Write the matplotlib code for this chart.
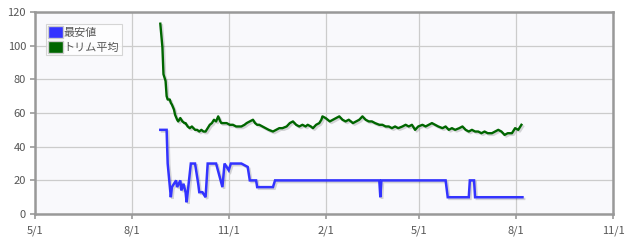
import pandas as pd
import matplotlib
matplotlib.use("Agg")
import matplotlib.pyplot as plt
import matplotlib.dates as mdates
import matplotlib.patheffects as pe
from matplotlib.patches import Patch

plt.rcParams["font.family"] = ["Noto Sans CJK JP", "DejaVu Sans"]

# =========================
# DATA
# =========================

min_dates = [
    "2013-08-28", "2013-09-03", "2013-09-04", "2013-09-07", "2013-09-08",
    "2013-09-12", "2013-09-13", "2013-09-16", "2013-09-17", "2013-09-19",
    "2013-09-21", "2013-09-22", "2013-09-26", "2013-09-30", "2013-10-03",
    "2013-10-04", "2013-10-07", "2013-10-10", "2013-10-12", "2013-10-20",
    "2013-10-23", "2013-10-26", "2013-10-28", "2013-11-01", "2013-11-03",
    "2013-11-13", "2013-11-19", "2013-11-21", "2013-11-27", "2013-11-28",
    "2013-12-13", "2013-12-15", "2014-03-24", "2014-03-25", "2014-03-26",
    "2014-05-26", "2014-05-28", "2014-06-17", "2014-06-18", "2014-06-22",
    "2014-06-23", "2014-08-07",
]
min_values = [
    50, 50, 30, 10, 16,
    20, 16, 20, 14, 18,
    13, 7, 30, 30, 18,
    13, 13, 10, 30, 30,
    23, 16, 30, 26, 30,
    30, 28, 20, 20, 16,
    16, 20, 20, 10, 20,
    20, 10, 10, 20, 20,
    10, 10,
]

trim_dates = [
    "2013-08-28", "2013-08-30", "2013-08-31", "2013-09-02", "2013-09-03",
    "2013-09-04", "2013-09-06", "2013-09-07", "2013-09-08", "2013-09-10",
    "2013-09-11", "2013-09-13", "2013-09-14", "2013-09-16", "2013-09-18",
    "2013-09-20", "2013-09-21", "2013-09-23", "2013-09-25", "2013-09-27",
    "2013-09-30", "2013-10-02", "2013-10-04", "2013-10-06", "2013-10-08",
    "2013-10-10", "2013-10-12", "2013-10-14", "2013-10-16", "2013-10-18",
    "2013-10-20", "2013-10-22", "2013-10-24", "2013-10-25", "2013-10-28",
    "2013-10-30", "2013-11-02", "2013-11-05", "2013-11-08", "2013-11-11",
    "2013-11-13", "2013-11-16", "2013-11-18", "2013-11-21", "2013-11-24",
    "2013-11-26", "2013-11-28", "2013-11-30", "2013-12-03", "2013-12-06",
    "2013-12-09", "2013-12-13", "2013-12-16", "2013-12-19", "2013-12-22",
    "2013-12-26", "2013-12-29", "2014-01-01", "2014-01-04", "2014-01-07",
    "2014-01-10", "2014-01-13", "2014-01-15", "2014-01-18", "2014-01-20",
    "2014-01-23", "2014-01-26", "2014-01-28", "2014-01-29", "2014-02-01",
    "2014-02-03", "2014-02-05", "2014-02-08", "2014-02-11", "2014-02-14",
    "2014-02-17", "2014-02-20", "2014-02-23", "2014-02-25", "2014-02-27",
    "2014-03-02", "2014-03-05", "2014-03-08", "2014-03-11", "2014-03-14",
    "2014-03-17", "2014-03-20", "2014-03-24", "2014-03-27", "2014-03-30",
    "2014-04-02", "2014-04-05", "2014-04-08", "2014-04-11", "2014-04-15",
    "2014-04-18", "2014-04-21", "2014-04-24", "2014-04-27", "2014-04-30",
    "2014-05-04", "2014-05-07", "2014-05-10", "2014-05-13", "2014-05-16",
    "2014-05-19", "2014-05-23", "2014-05-26", "2014-05-29", "2014-06-01",
    "2014-06-04", "2014-06-08", "2014-06-11", "2014-06-14", "2014-06-17",
    "2014-06-20", "2014-06-23", "2014-06-26", "2014-06-29", "2014-07-02",
    "2014-07-05", "2014-07-09", "2014-07-12", "2014-07-15", "2014-07-18",
    "2014-07-21", "2014-07-24", "2014-07-28", "2014-07-31", "2014-08-03",
    "2014-08-06",
]
trim_values = [
    113, 99, 83, 79, 70,
    68, 68, 66, 65, 62,
    59, 56, 55, 57, 55,
    54, 54, 52, 51, 52,
    50, 50, 49, 50, 49,
    49, 51, 53, 54, 56,
    55, 58, 55, 54, 54,
    54, 53, 53, 52, 52,
    52, 53, 54, 55, 56,
    54, 53, 53, 52, 51,
    50, 49, 50, 51, 51,
    52, 54, 55, 53, 52,
    53, 52, 53, 52, 51,
    53, 54, 56, 58, 57,
    56, 55, 56, 57, 58,
    56, 55, 56, 55, 54,
    55, 56, 58, 56, 55,
    55, 54, 53, 53, 52,
    52, 51, 52, 51, 52,
    53, 52, 53, 50, 52,
    53, 52, 53, 54, 53,
    52, 51, 52, 50, 51,
    50, 51, 52, 50, 49,
    50, 49, 49, 48, 49,
    48, 48, 49, 50, 49,
    47, 48, 48, 51, 50,
    53,
]

x_ticks = ["2013-05-01", "2013-08-01", "2013-11-01", "2014-02-01",
           "2014-05-01", "2014-08-01", "2014-11-01"]
y_ticks = [0, 20, 40, 60, 80, 100, 120]

# =========================
# PLOT
# =========================

fig = plt.figure(figsize=(6.31, 2.43), dpi=100)
ax = fig.add_axes([0.0555, 0.119, 0.916, 0.832])
ax.set_facecolor("#f9f9fc")

shadow = [pe.SimpleLineShadow(offset=(1.2, -1.2), shadow_color="black", alpha=0.15), pe.Normal()]

ax.plot(pd.to_datetime(min_dates), min_values, color="#3333ff", lw=1.8,
        path_effects=shadow, solid_joinstyle="miter")
ax.plot(pd.to_datetime(trim_dates), trim_values, color="#006600", lw=1.7,
        path_effects=shadow)

ax.set_xlim(pd.Timestamp(x_ticks[0]), pd.Timestamp(x_ticks[-1]))
ax.set_ylim(0, 120)
ax.set_xticks(pd.to_datetime(x_ticks))
ax.xaxis.set_major_formatter(mdates.DateFormatter("%-m/%-d"))
ax.set_yticks(y_ticks)

ax.grid(True, color="#cccccc", lw=0.9)
ax.set_axisbelow(True)
for s in ax.spines.values():
    s.set_color("#999999")
    s.set_linewidth(1.8)

ax.tick_params(axis="both", colors="#999999", labelcolor="#555555",
               labelsize=8, length=3.5, width=1.2)
ax.tick_params(axis="x", pad=5)
ax.tick_params(axis="y", pad=3)

handles = [Patch(facecolor="#3333ff", edgecolor="#cccccc", label="最安値"),
           Patch(facecolor="#006600", edgecolor="#cccccc", label="トリム平均")]
leg = ax.legend(handles=handles, loc="upper left", bbox_to_anchor=(0.019, 0.94),
                fontsize=8, frameon=True, fancybox=False, handlelength=1.3,
                handleheight=1.3, handletextpad=0.1, borderpad=0.2,
                labelspacing=0.25, borderaxespad=0)
leg.get_frame().set_edgecolor("#cccccc")
leg.get_frame().set_linewidth(0.8)
for t in leg.get_texts():
    t.set_color("#555555")

plt.savefig("out.png", dpi=100)
plt.close()
